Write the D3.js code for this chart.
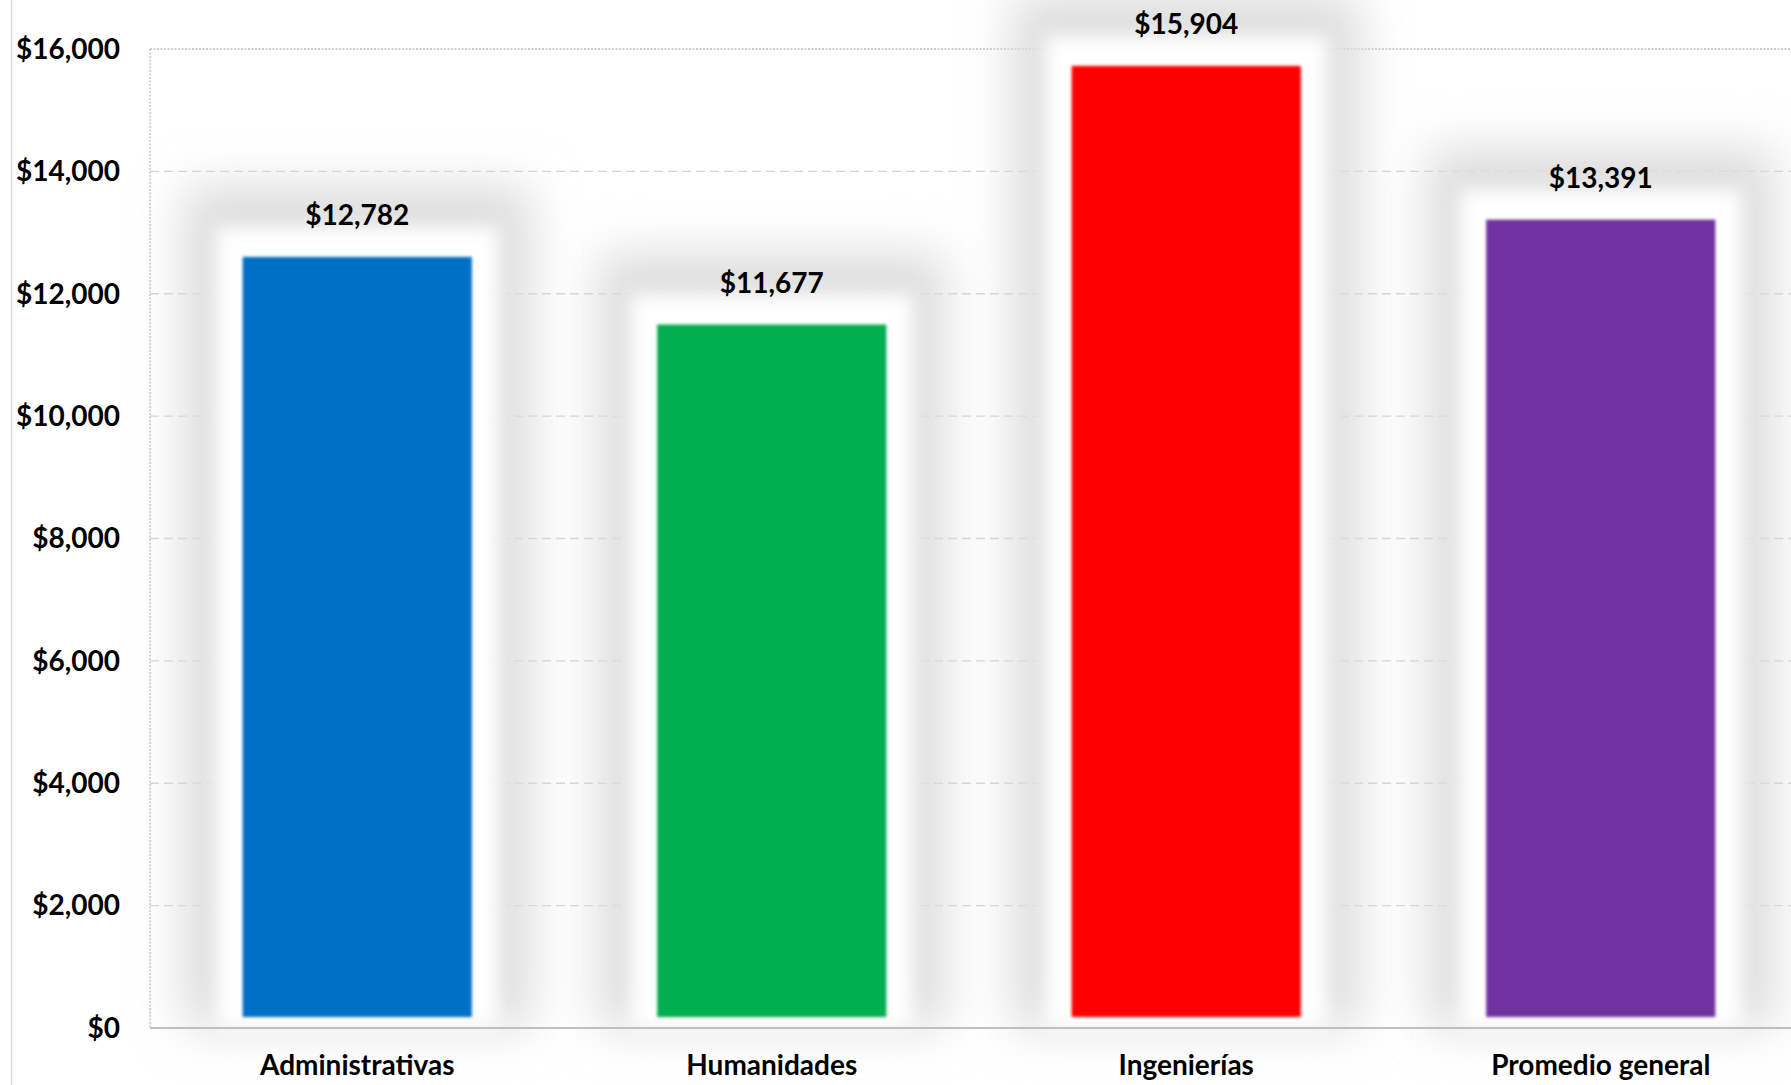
<!DOCTYPE html>
<html><head><meta charset="utf-8">
<script src="https://cdn.jsdelivr.net/npm/d3@7"></script>
<style>
html,body{margin:0;padding:0;background:#fff;overflow:hidden}
text{font-family:"Lato","Open Sans",sans-serif;font-weight:700;fill:#000}
</style></head>
<body><svg id="chart" width="1791" height="1085"></svg>
<script>
const categories = ["Administrativas","Humanidades","Ingenierías","Promedio general"];
const values = [12782, 11677, 15904, 13391];
const colors = ["#0070C6","#00AF50","#FF0000","#7030A0"];
const yTicks = [0,2000,4000,6000,8000,10000,12000,14000,16000];

const W = 1791, H = 1085;
const m = {left:150, top:49, right:-17, bottom:57};
const svg = d3.select("#chart");
const x = d3.scaleBand().domain(categories).range([m.left, W - m.right]).paddingInner(0.394).paddingOuter(0.197);
const y = d3.scaleLinear().domain([0,16000]).range([H - m.bottom, m.top]);
const fmt = v => "$" + d3.format(",")(v);

const defs = svg.append("defs");
defs.append("filter").attr("id","shadow").attr("x","-60%").attr("y","-60%").attr("width","220%").attr("height","220%")
  .append("feGaussianBlur").attr("stdDeviation",24);
defs.append("filter").attr("id","halo").attr("x","-50%").attr("y","-50%").attr("width","200%").attr("height","200%")
  .append("feGaussianBlur").attr("stdDeviation",9);
defs.append("filter").attr("id","soft").attr("x","-20%").attr("y","-20%").attr("width","140%").attr("height","140%")
  .append("feGaussianBlur").attr("stdDeviation",1.8);

// chart outer left border
svg.append("line").attr("x1",11.5).attr("x2",11.5).attr("y1",0).attr("y2",H).attr("stroke","#d9d9d9").attr("stroke-width",1.5);

// gridlines
svg.append("g").selectAll("line").data(yTicks.filter(t=>t>0 && t<16000)).join("line")
  .attr("x1",m.left).attr("x2",W).attr("y1",d=>y(d)).attr("y2",d=>y(d))
  .attr("stroke","#d4d4d4").attr("stroke-width",1.3).attr("stroke-dasharray","9,5");
// plot area dotted border top/left
svg.append("line").attr("x1",m.left).attr("x2",W).attr("y1",y(16000)).attr("y2",y(16000))
  .attr("stroke","#bfbfbf").attr("stroke-width",1.3).attr("stroke-dasharray","2,1.5");
svg.append("line").attr("x1",m.left).attr("x2",m.left).attr("y1",y(16000)).attr("y2",y(0))
  .attr("stroke","#bfbfbf").attr("stroke-width",1.3).attr("stroke-dasharray","2,1.5");

const inset = 11;
const bars = svg.append("g");
// shadows
bars.selectAll("rect.sh").data(values).join("rect").attr("class","sh")
  .attr("x",(d,i)=>x(categories[i]) - 48).attr("width",x.bandwidth()+96)
  .attr("y",d=>y(d) - 60).attr("height",d=>y(0) - y(d) + 60)
  .attr("fill","#dcdcdc").attr("filter","url(#shadow)");
// white halos
bars.selectAll("rect.halo").data(values).join("rect").attr("class","halo")
  .attr("x",(d,i)=>x(categories[i]) - 16).attr("width",x.bandwidth()+32)
  .attr("y",d=>y(d) - 20).attr("height",d=>y(0) - y(d) + 20)
  .attr("fill","#fff").attr("filter","url(#halo)");
// bars
bars.selectAll("rect.bar").data(values).join("rect").attr("class","bar")
  .attr("x",(d,i)=>x(categories[i]) + inset).attr("width",x.bandwidth()-2*inset)
  .attr("y",d=>y(d) + inset).attr("height",d=>y(0) - y(d) - 2*inset)
  .attr("fill",(d,i)=>colors[i]).attr("filter","url(#soft)");

// x axis line
svg.append("line").attr("x1",m.left).attr("x2",W).attr("y1",y(0)).attr("y2",y(0))
  .attr("stroke","#bfbfbf").attr("stroke-width",2);

// value labels
svg.append("g").selectAll("text").data(values).join("text")
  .attr("x",(d,i)=>x(categories[i]) + x.bandwidth()/2).attr("y",d=>y(d) - 21)
  .attr("text-anchor","middle").attr("font-size",28).text(d=>fmt(d));

// y axis labels
svg.append("g").selectAll("text").data(yTicks).join("text")
  .attr("x",120).attr("y",d=>y(d)).attr("dy","0.35em")
  .attr("text-anchor","end").attr("font-size",28).text(d=>fmt(d));

// category labels
svg.append("g").selectAll("text").data(categories).join("text")
  .attr("x",d=>x(d) + x.bandwidth()/2).attr("y",H - 10)
  .attr("text-anchor","middle").attr("font-size",28).text(d=>d);
</script></body></html>
